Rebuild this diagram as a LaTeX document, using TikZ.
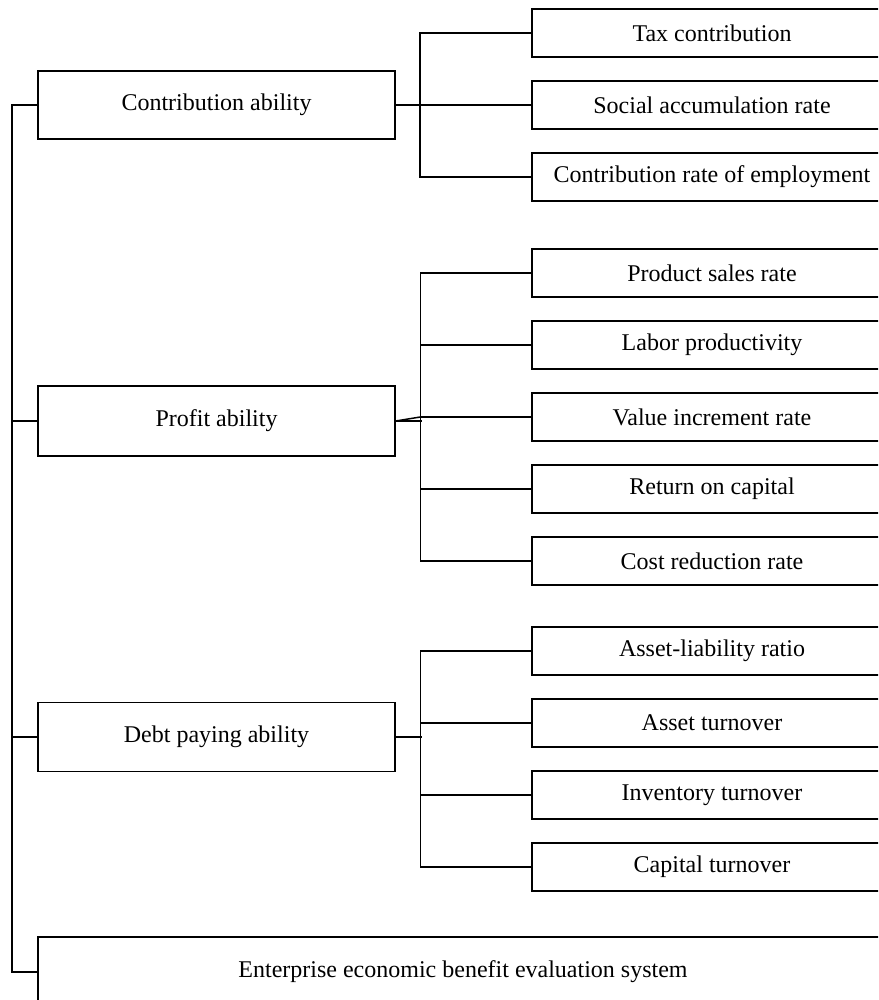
\documentclass[tikz,border=0pt]{standalone}
\usepackage{fontspec}
\setmainfont{Liberation Serif}
\begin{document}
\begin{tikzpicture}[x=1pt,y=-1pt,
  box/.style={draw,line width=1.5pt,rectangle,inner sep=0pt,font=\fontsize{24}{28}\selectfont},
  leftbox/.style={box,minimum width=357pt,minimum height=68pt},
  rightbox/.style={box,minimum width=360pt,minimum height=48pt},
  wire/.style={line width=1.5pt}]
\useasboundingbox (0,0) rectangle (878,1000);
\clip (0,0) rectangle (878,1000);
% level 1
\node[leftbox] (ca) at (216.5,105) {Contribution ability};
\node[leftbox,minimum height=70pt] (pa) at (216.5,421) {Profit ability};
\node[leftbox,minimum height=69pt] (da) at (216.5,737) {Debt paying ability};
\node[box,minimum width=850pt,minimum height=70pt] (ee) at (463,972) {Enterprise economic benefit evaluation system};
% contribution children
\node[rightbox] (c1) at (712,33) {Tax contribution};
\node[rightbox] (c2) at (712,105) {Social accumulation rate};
\node[rightbox] (c3) at (712,177) {Contribution rate of employment};
% profit children
\node[rightbox] (p1) at (712,273) {Product sales rate};
\node[rightbox] (p2) at (712,345) {Labor productivity};
\node[rightbox] (p3) at (712,417) {Value increment rate};
\node[rightbox] (p4) at (712,489) {Return on capital};
\node[rightbox] (p5) at (712,561) {Cost reduction rate};
% debt children
\node[rightbox] (d1) at (712,651) {Asset-liability ratio};
\node[rightbox] (d2) at (712,723) {Asset turnover};
\node[rightbox] (d3) at (712,795) {Inventory turnover};
\node[rightbox] (d4) at (712,867) {Capital turnover};
% main bus
\draw[wire] (ca.west) -- ++(-25.5,0) |- (ee.west);
\draw[wire] (pa.west) -- ++(-25.5,0);
\draw[wire] (da.west) -- ++(-25.5,0);
% contribution connectors
\draw[wire] (c1.west) -- ++(-111.5,0) |- (c3.west);
\draw[wire] (ca.east) -- (c2.west);
% profit connectors
\draw[wire] (p1.west) -- ++(-111,0) |- (p5.west);
\draw[wire] (p2.west) -- ++(-111,0);
\draw[wire] (p3.west) -- ++(-111,0) coordinate (pj);
\draw[wire] (p4.west) -- ++(-111,0);
\draw[wire] (pa.east) -- ++(26,0);
\draw[wire] (pa.east) -- (pj);
% debt connectors
\draw[wire] (d1.west) -- ++(-111,0) |- (d4.west);
\draw[wire] (d2.west) -- ++(-111,0);
\draw[wire] (d3.west) -- ++(-111,0);
\draw[wire,line width=2.5pt] (da.east) -- ++(26,0);
\end{tikzpicture}
\end{document}
